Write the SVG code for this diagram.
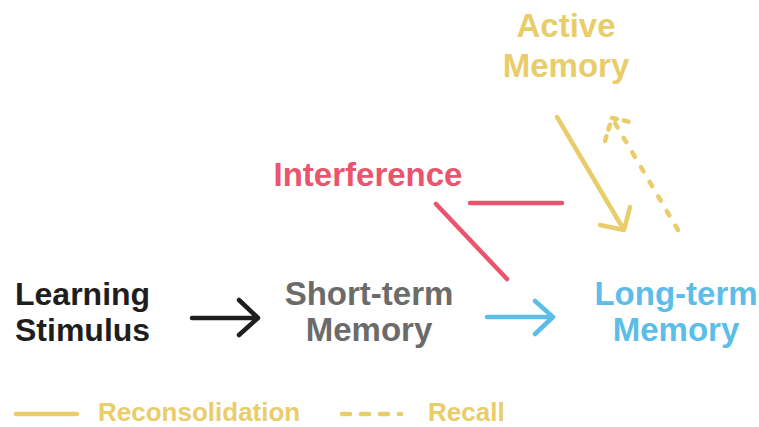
<svg xmlns="http://www.w3.org/2000/svg" width="759" height="427" viewBox="0 0 759 427">
  <style>
    text { font-family: "Liberation Sans", Arial, sans-serif; font-weight: bold; }
    .lbl { font-size: 33px; text-anchor: middle; }
    .leg { font-size: 26px; }
    .ln { fill: none; stroke-width: 4.5; stroke-linecap: round; stroke-linejoin: round; }
    .dash { stroke-dasharray: 5 12; }
    .k { stroke: #1e1e1e; }
    .b { stroke: #5cbde9; }
    .r { stroke: #ea546c; }
    .y { stroke: #e9cd6b; }
  </style>
  <rect width="759" height="427" fill="#ffffff"/>

  <g id="connectors">
    <!-- stimulus to short-term -->
    <path class="ln k" d="M192 318 H258 M239 300 L258 318 L239 335"/>
    <!-- short-term to long-term -->
    <path class="ln b" d="M487 317 H553 M535 301 L553 317 L535 334"/>
    <!-- interference strokes -->
    <path class="ln r" d="M470 203 H562"/>
    <path class="ln r" d="M436 204 L507 279"/>
    <!-- reconsolidation: active to long-term -->
    <path class="ln y" d="M557 117 L624 230 M600 225 L624 230 L630 207"/>
    <!-- recall: long-term to active -->
    <path class="ln y dash" d="M678 230 L612 118"/>
    <path class="ln y" d="M605 141 L612 118 L635 123" style="stroke-dasharray: 5 7"/>
  </g>

  <g id="learning-stimulus">
    <text x="15" y="305" font-size="32" fill="#1e1e1e">Learning</text>
    <text x="15" y="341" font-size="32" fill="#1e1e1e">Stimulus</text>
  </g>
  <g id="short-term-memory">
    <text class="lbl" x="369" y="305" fill="#6b6b6b">Short-term</text>
    <text class="lbl" x="369" y="341" fill="#6b6b6b">Memory</text>
  </g>
  <g id="long-term-memory">
    <text class="lbl" x="676" y="305" fill="#5cbde9">Long-term</text>
    <text class="lbl" x="676" y="341" fill="#5cbde9">Memory</text>
  </g>
  <g id="interference">
    <text class="lbl" x="368" y="186" fill="#ea546c">Interference</text>
  </g>
  <g id="active-memory">
    <text class="lbl" x="566" y="37" fill="#e9cd6b">Active</text>
    <text class="lbl" x="566" y="77" fill="#e9cd6b">Memory</text>
  </g>

  <g id="legend">
    <path class="ln y" d="M16 414 H77"/>
    <text class="leg" x="98" y="421" fill="#e9cd6b">Reconsolidation</text>
    <path class="ln y" d="M342 414 H401" style="stroke-dasharray: 8 11"/>
    <text class="leg" x="428" y="421" fill="#e9cd6b">Recall</text>
  </g>
</svg>
